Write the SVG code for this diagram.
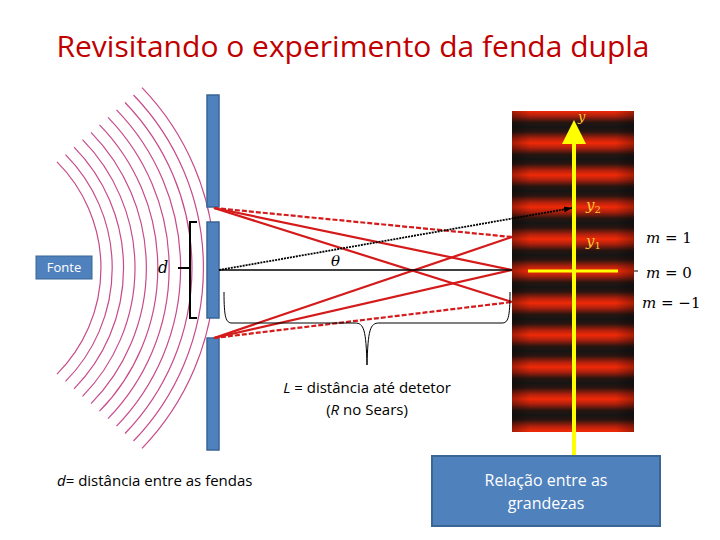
<svg xmlns="http://www.w3.org/2000/svg" width="720" height="540" viewBox="0 0 720 540">
<style>
.bar{fill:#4f81bd;stroke:#3a6595;stroke-width:1.5}
.arc{fill:none;stroke:#c84a8a;stroke-width:1.2}
.ray{stroke:#d41a1a;stroke-width:2.2;fill:none}
.dash{stroke-dasharray:5 2}
.math{font-family:'DejaVu Serif',serif;font-style:italic}
.sans{font-family:'Open Sans','Liberation Sans',sans-serif}
</style>
<defs>
<linearGradient id="band" x1="0" y1="0" x2="0" y2="1">
<stop offset="0" stop-color="#151515"/><stop offset="0.15" stop-color="#2a1510"/><stop offset="0.35" stop-color="#b0200c"/><stop offset="0.5" stop-color="#f02a08"/><stop offset="0.65" stop-color="#b0200c"/><stop offset="0.85" stop-color="#2a1510"/><stop offset="1" stop-color="#151515"/>
</linearGradient>
<pattern id="fr" patternUnits="userSpaceOnUse" x="0" y="95" width="200" height="32"><rect width="200" height="32" fill="url(#band)"/></pattern>
<linearGradient id="side" x1="0" y1="0" x2="1" y2="0">
<stop offset="0" stop-color="#000" stop-opacity="0.3"/><stop offset="0.15" stop-color="#000" stop-opacity="0"/><stop offset="0.85" stop-color="#000" stop-opacity="0"/><stop offset="1" stop-color="#000" stop-opacity="0.3"/>
</linearGradient>
<marker id="ya" markerWidth="6" markerHeight="6" refX="3" refY="3" orient="auto" markerUnits="strokeWidth"><path d="M0,0 L6,3 L0,6 Z" fill="#ffff00"/></marker>
<marker id="ba" markerWidth="8" markerHeight="6" refX="8" refY="3" orient="auto" markerUnits="userSpaceOnUse"><path d="M0,0 L8,3 L0,6 Z" fill="#000"/></marker>
<clipPath id="wc"><rect x="0" y="85" width="212" height="380"/></clipPath>
</defs>
<text x="353" y="57" text-anchor="middle" class="sans" font-size="30" fill="#c00000">Revisitando o experimento da fenda dupla</text>
<g id="waves" clip-path="url(#wc)">
<path class="arc" d="M57.0,161.9 A150,150 0 0 1 57.0,374.1"/>
<path class="arc" d="M65.5,154.6 A161,161 0 0 1 65.5,381.4"/>
<path class="arc" d="M74.0,147.2 A172,172 0 0 1 74.0,388.8"/>
<path class="arc" d="M82.5,139.7 A183,183 0 0 1 82.5,396.3"/>
<path class="arc" d="M91.0,132.3 A194,194 0 0 1 91.0,403.7"/>
<path class="arc" d="M99.5,124.8 A205,205 0 0 1 99.5,411.2"/>
<path class="arc" d="M108.0,117.4 A216,216 0 0 1 108.0,418.6"/>
<path class="arc" d="M116.5,109.9 A227,227 0 0 1 116.5,426.1"/>
<path class="arc" d="M125.0,102.5 A238,238 0 0 1 125.0,433.5"/>
<path class="arc" d="M133.5,95.0 A249,249 0 0 1 133.5,441.0"/>
<path class="arc" d="M142.0,87.6 A260,260 0 0 1 142.0,448.4"/>
</g>
<g id="screen">
<rect x="512" y="111" width="122" height="321" fill="url(#fr)"/>
<rect x="512" y="111" width="122" height="321" fill="url(#side)"/>
</g>
<g id="barrier">
<rect class="bar" x="207" y="95" width="12" height="112"/>
<rect class="bar" x="207" y="222" width="12" height="96"/>
<rect class="bar" x="207" y="338" width="12" height="112"/>
</g>
<g id="connectors">
<path class="ray" d="M214,208 L512,270"/>
<path class="ray" d="M214,208 L512,302"/>
<path class="ray dash" d="M214,208 L512,237"/>
<path class="ray" d="M214,338 L512,237"/>
<path class="ray" d="M214,338 L512,270"/>
<path class="ray dash" d="M214,338 L512,302"/>
<path d="M219,270 L512,270" stroke="#000" stroke-width="1.6"/>
<path d="M219,270 L572,208" stroke="#000" stroke-width="1.8" stroke-dasharray="2 1" marker-end="url(#ba)"/>
<path d="M197,222 L190,222 L190,318 L197,318 M190,268 L178,268" stroke="#000" stroke-width="2" fill="none"/>
<path d="M224,292 C224,318 226,323 232,323 L355,323 C364,323 366,330 367,365 C368,330 370,323 379,323 L502,323 C508,323 510,318 510,292" stroke="#000" stroke-width="1" fill="none"/>
<path d="M574,455 L574,132" stroke="#ffff00" stroke-width="4" marker-end="url(#ya)"/>
<path d="M528,271 L618,271" stroke="#ffff00" stroke-width="3"/>
<path d="M634,271 L638,271" stroke="#000" stroke-width="1"/>
</g>
<text x="331" y="266" class="math" font-size="15">θ</text>
<text x="158" y="273" class="math" font-size="16">d</text>
<text x="578" y="121" class="math" font-size="13" fill="#ffcc33">y</text>
<text x="586" y="210" class="math" font-size="15" fill="#ffcc33">y<tspan font-size="10" dy="3" font-style="normal">2</tspan></text>
<text x="586" y="246" class="math" font-size="15" fill="#ffcc33">y<tspan font-size="10" dy="3" font-style="normal">1</tspan></text>
<g class="math" font-size="15">
<text x="646" y="243">m <tspan font-style="normal">= 1</tspan></text>
<text x="646" y="278">m <tspan font-style="normal">= 0</tspan></text>
<text x="642" y="308">m <tspan font-style="normal">= −1</tspan></text>
</g>
<g id="fonte">
<rect x="36" y="256" width="56" height="23" fill="#4f81bd" stroke="#3a6595"/>
<text x="64" y="272" text-anchor="middle" class="sans" font-size="13" fill="#fff">Fonte</text>
</g>
<text x="367" y="393" text-anchor="middle" class="sans" font-size="15"><tspan font-style="italic">L</tspan> = distância até detetor</text>
<text x="367" y="415" text-anchor="middle" class="sans" font-size="15">(<tspan font-style="italic">R</tspan> no Sears)</text>
<text x="57" y="486" class="sans" font-size="15"><tspan font-style="italic">d</tspan>= distância entre as fendas</text>
<g id="rel">
<rect x="432" y="456" width="228" height="70" fill="#4f81bd" stroke="#3a6595" stroke-width="2"/>
<text x="546" y="486" text-anchor="middle" class="sans" font-size="16" fill="#fff">Relação entre as</text>
<text x="546" y="509" text-anchor="middle" class="sans" font-size="16" fill="#fff">grandezas</text>
</g>
</svg>
